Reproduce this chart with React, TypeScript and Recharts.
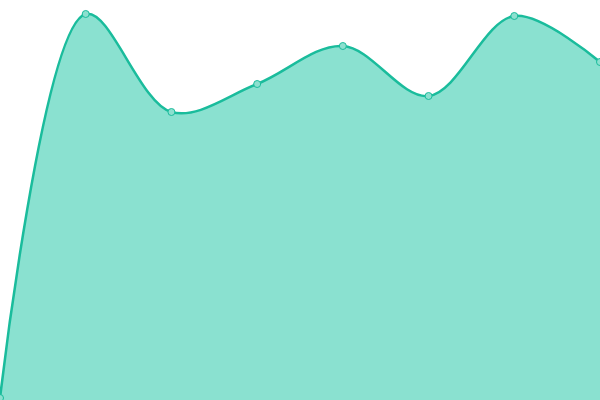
import { AreaChart, Area, XAxis, YAxis } from 'recharts';

const labels = ['A', 'B', 'C', 'D', 'E', 'F', 'G', 'H'];
const values = [2, 386, 288, 316, 354, 304, 384, 338];

const chartData = labels.map((label, i) => ({ label, value: values[i] }));

// centripetal Catmull-Rom (alpha 0.5), same maths as d3's curveCatmullRom
const EPS = 1e-12;

class CatmullRom {
  _context: any;
  _alpha: number;
  _line: number = NaN;
  _point = 0;
  _x0 = NaN; _x1 = NaN; _x2 = NaN;
  _y0 = NaN; _y1 = NaN; _y2 = NaN;
  _l01_a = 0; _l12_a = 0; _l23_a = 0;
  _l01_2a = 0; _l12_2a = 0; _l23_2a = 0;

  constructor(context: any, alpha: number) {
    this._context = context;
    this._alpha = alpha;
  }
  bez(x: number, y: number) {
    let x1 = this._x1, y1 = this._y1, x2 = this._x2, y2 = this._y2;
    if (this._l01_a > EPS) {
      const a = 2 * this._l01_2a + 3 * this._l01_a * this._l12_a + this._l12_2a;
      const n = 3 * this._l01_a * (this._l01_a + this._l12_a);
      x1 = (x1 * a - this._x0 * this._l12_2a + this._x2 * this._l01_2a) / n;
      y1 = (y1 * a - this._y0 * this._l12_2a + this._y2 * this._l01_2a) / n;
    }
    if (this._l23_a > EPS) {
      const b = 2 * this._l23_2a + 3 * this._l23_a * this._l12_a + this._l12_2a;
      const m = 3 * this._l23_a * (this._l23_a + this._l12_a);
      x2 = (x2 * b + this._x1 * this._l23_2a - x * this._l12_2a) / m;
      y2 = (y2 * b + this._y1 * this._l23_2a - y * this._l12_2a) / m;
    }
    this._context.bezierCurveTo(x1, y1, x2, y2, this._x2, this._y2);
  }
  areaStart() { this._line = 0; }
  areaEnd() { this._line = NaN; }
  lineStart() {
    this._x0 = this._x1 = this._x2 = NaN;
    this._y0 = this._y1 = this._y2 = NaN;
    this._l01_a = this._l12_a = this._l23_a = 0;
    this._l01_2a = this._l12_2a = this._l23_2a = 0;
    this._point = 0;
  }
  lineEnd() {
    if (this._point === 2) this._context.lineTo(this._x2, this._y2);
    else if (this._point === 3) this.point(this._x2, this._y2);
    if (this._line || (this._line !== 0 && this._point === 1)) this._context.closePath();
    this._line = 1 - this._line;
  }
  point(x: number, y: number) {
    x = +x; y = +y;
    if (this._point) {
      const x23 = this._x2 - x, y23 = this._y2 - y;
      this._l23_2a = Math.pow(x23 * x23 + y23 * y23, this._alpha);
      this._l23_a = Math.sqrt(this._l23_2a);
    }
    if (this._point === 0) {
      this._point = 1;
      this._line ? this._context.lineTo(x, y) : this._context.moveTo(x, y);
    } else if (this._point === 1) {
      this._point = 2;
    } else {
      if (this._point === 2) this._point = 3;
      this.bez(x, y);
    }
    this._l01_a = this._l12_a; this._l12_a = this._l23_a;
    this._l01_2a = this._l12_2a; this._l12_2a = this._l23_2a;
    this._x0 = this._x1; this._x1 = this._x2; this._x2 = x;
    this._y0 = this._y1; this._y1 = this._y2; this._y2 = y;
  }
}

const catmullRomCurve: any = (context: any) => new CatmullRom(context, 0.5);

export default function App() {
  return (
    <div style={{ position: 'absolute', left: 0, top: 0, width: 600, height: 400, background: '#fff' }}>
      <AreaChart width={600} height={400} data={chartData} margin={{ top: 0, right: 0, bottom: 0, left: 0 }}>
        <XAxis dataKey="label" hide padding={{ left: 0, right: 0 }} />
        <YAxis hide domain={[0, 400]} />
        <Area
          type={catmullRomCurve}
          dataKey="value"
          stroke="#1abc9c"
          strokeWidth={2.5}
          fill="#16c4a1"
          fillOpacity={0.5}
          dot={{ r: 3.5, fill: '#8ce0cf', stroke: '#1abc9c', strokeWidth: 1, fillOpacity: 1 }}
          activeDot={false}
          isAnimationActive={false}
        />
      </AreaChart>
    </div>
  );
}
